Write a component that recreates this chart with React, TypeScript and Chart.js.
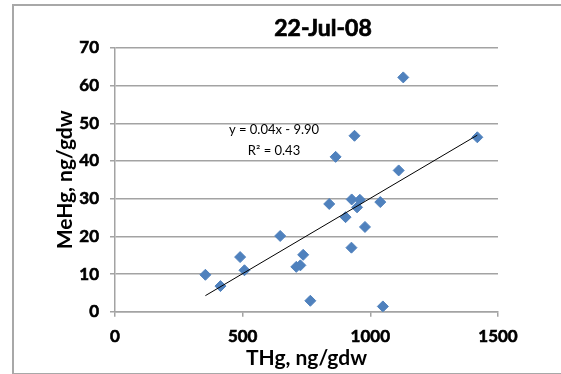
import React, { useEffect, useRef } from "react";
import { Chart, registerables } from "chart.js";

Chart.register(...registerables);

const chartTitle = "22-Jul-08";
const xAxisTitle = "THg, ng/gdw";
const yAxisTitle = "MeHg, ng/gdw";
const equationText = "y = 0.04x - 9.90";
const rSquaredText = "R² = 0.43";

const thgValues = [354, 413, 490, 507, 647, 710, 726, 737, 765, 839, 864, 903, 926, 927, 938, 948, 959, 979, 1039, 1049, 1111, 1129, 1419];
const mehgValues = [9.8, 6.8, 14.5, 11.0, 20.1, 11.9, 12.3, 15.1, 2.9, 28.6, 41.1, 25.1, 17.0, 29.8, 46.7, 27.7, 29.7, 22.5, 29.1, 1.4, 37.5, 62.2, 46.3];

const trendSlope = 0.04;
const trendIntercept = -9.9;

const xTicks = [0, 500, 1000, 1500];
const yTicks = [0, 10, 20, 30, 40, 50, 60, 70];

const FONT = "Lato, 'Open Sans', sans-serif";

export default function App() {
  const canvasRef = useRef<HTMLCanvasElement | null>(null);

  useEffect(() => {
    const canvas = canvasRef.current;
    if (!canvas) return;
    const points = thgValues.map((x, i) => ({ x, y: mehgValues[i] }));
    const xMin = Math.min(...thgValues);
    const xMax = Math.max(...thgValues);
    const trend = [
      { x: xMin, y: trendSlope * xMin + trendIntercept },
      { x: xMax, y: trendSlope * xMax + trendIntercept },
    ];

    const textPlugin = {
      id: "excelTexts",
      afterDraw(chart: any) {
        const ctx = chart.ctx;
        ctx.save();
        ctx.fillStyle = "#000";
        ctx.strokeStyle = "#000";
        ctx.textAlign = "center";
        ctx.textBaseline = "middle";
        ctx.font = `bold 23px ${FONT}`;
        ctx.lineWidth = 0.7;
        ctx.fillText(chartTitle, 323, 29);
        ctx.strokeText(chartTitle, 323, 29);
        ctx.font = `13px ${FONT}`;
        ctx.fillText(equationText, 274, 130);
        ctx.fillText(rSquaredText, 274, 151);
        ctx.restore();
      },
    };

    const gridColor = "#a3a3a3";
    const fmt = (v: any) => String(v);

    const chart = new Chart(canvas, {
      type: "scatter",
      data: {
        datasets: [
          {
            type: "line",
            data: trend,
            borderColor: "#000",
            borderWidth: 1,
            pointRadius: 0,
            showLine: true,
            fill: false,
            order: 0,
          } as any,
          {
            data: points,
            pointStyle: "rectRot",
            pointRadius: 5.5,
            backgroundColor: "#4f81bd",
            borderColor: "#4f81bd",
            borderWidth: 1,
            order: 1,
          },
        ],
      },
      options: {
        animation: false,
        responsive: false,
        maintainAspectRatio: false,
        layout: { padding: { top: 48, right: 63, left: 0, bottom: 0 } },
        plugins: {
          legend: { display: false },
          tooltip: { enabled: false },
          title: { display: false },
        },
        scales: {
          x: {
            type: "linear",
            min: 0,
            max: 1500,
            afterBuildTicks: (scale: any) => {
              scale.ticks = xTicks.map((v) => ({ value: v }));
            },
            afterFit: (scale: any) => {
              scale.height = 62.3;
            },
            grid: {
              drawOnChartArea: false,
              drawTicks: true,
              tickLength: 5,
              color: gridColor,
              lineWidth: 1.5,
            },
            border: { display: true, color: gridColor, width: 1.5 },
            ticks: {
              padding: 10,
              color: "#000",
              callback: fmt,
              textStrokeColor: "#000",
              textStrokeWidth: 0.6,
              font: { family: FONT, size: 17, weight: "bold" },
            },
            title: {
              display: true,
              text: xAxisTitle,
              color: "#000",
              font: { family: FONT, size: 21, weight: "bold" },
              padding: { top: 0, bottom: 3 },
            },
          },
          y: {
            type: "linear",
            min: 0,
            max: 70,
            afterBuildTicks: (scale: any) => {
              scale.ticks = yTicks.map((v) => ({ value: v }));
            },
            afterFit: (scale: any) => {
              scale.width = 115;
            },
            grid: {
              drawOnChartArea: true,
              drawTicks: true,
              tickLength: 5,
              color: gridColor,
              lineWidth: 1.5,
            },
            border: { display: true, color: gridColor, width: 1.5 },
            ticks: {
              padding: 11,
              color: "#000",
              callback: fmt,
              textStrokeColor: "#000",
              textStrokeWidth: 0.6,
              font: { family: FONT, size: 17, weight: "bold" },
            },
            title: {
              display: true,
              text: yAxisTitle,
              color: "#000",
              font: { family: FONT, size: 21, weight: "bold" },
              padding: { top: 53, bottom: 0 },
            },
          },
        },
      },
      plugins: [textPlugin],
    } as any);

    return () => {
      chart.destroy();
    };
  }, []);

  return (
    <div style={{ position: "fixed", left: 0, top: 0, width: 561, height: 374, background: "#fff", overflow: "hidden" }}>
      <div
        style={{
          position: "absolute",
          left: 12,
          top: 4,
          width: 600,
          height: 367,
          border: "2px solid #a8a8a8",
          pointerEvents: "none",
        }}
      />
      <canvas
        ref={canvasRef}
        width={561}
        height={374}
        style={{ position: "absolute", left: 0, top: 0, width: 561, height: 374 }}
      />
    </div>
  );
}
